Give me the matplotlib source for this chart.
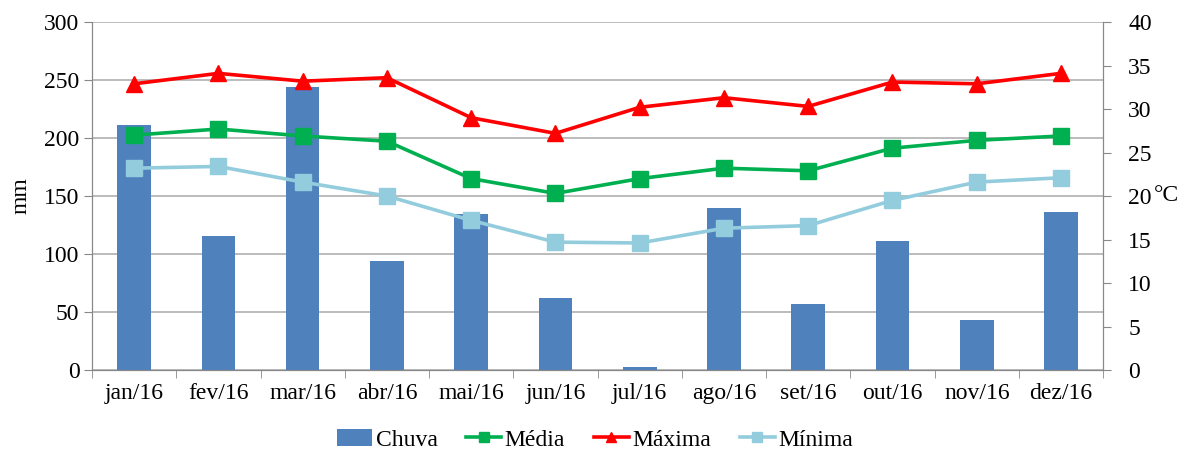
from matplotlib import pyplot as plt
import numpy as np

meses = ['jan/16', 'fev/16', 'mar/16', 'abr/16', 'mai/16', 'jun/16',
         'jul/16', 'ago/16', 'set/16', 'out/16', 'nov/16', 'dez/16']
chuva = [211, 115.5, 244, 94, 134.5, 62, 3, 139.5, 57, 111, 43, 136]  # mm
media = [27.0, 27.7, 26.9, 26.3, 22.0, 20.3, 22.0, 23.2, 22.9, 25.5, 26.4, 26.9]
maxima = [32.9, 34.1, 33.2, 33.6, 29.0, 27.2, 30.2, 31.3, 30.3, 33.1, 32.9, 34.1]
minima = [23.2, 23.4, 21.6, 20.0, 17.2, 14.7, 14.6, 16.3, 16.6, 19.5, 21.6, 22.1]

plt.rcParams['font.family'] = ['Liberation Serif', 'DejaVu Serif']
plt.rcParams['font.size'] = 17

fig = plt.figure(figsize=(11.9, 4.55), dpi=100)
ax = fig.add_axes([0.0773, 0.1868, 0.8497, 0.7648])
ax2 = ax.twinx()

x = np.arange(len(meses))
ax.bar(x, chuva, width=0.40, color='#4F81BD', label='Chuva', zorder=2)

ax2.plot(x, media, color='#00B050', lw=2.6, marker='s', ms=11, label='Média')
ax2.plot(x, maxima, color='#FF0000', lw=2.6, marker='^', ms=12, label='Máxima')
ax2.plot(x, minima, color='#93CDDD', lw=2.6, marker='s', ms=11, label='Mínima')

ax.set_xlim(-0.5, 11.5)
ax.set_ylim(0, 300)
ax2.set_ylim(0, 40)
ax.set_yticks(range(0, 301, 50))
ax2.set_yticks(range(0, 41, 5))
ax.set_xticks(x)
ax.set_xticklabels(meses)
ax.set_xticks(np.arange(-0.5, 12, 1), minor=True)
ax.tick_params(axis='x', which='major', length=0, pad=9)
ax.tick_params(axis='x', which='minor', length=6, color='#888888')
ax.tick_params(axis='y', length=6, color='#888888', pad=3)
ax2.tick_params(axis='y', length=6, color='#888888', pad=12)

ax.grid(axis='y', color='#B0B0B0', lw=1.2, zorder=0)
ax.set_axisbelow(True)
for a in (ax, ax2):
    for s in a.spines.values():
        s.set_color('#888888')
    a.spines['top'].set_visible(False)

# axis titles
fig.text(0.018, 0.57, 'mm', rotation=90, ha='center', va='center')
fig.text(0.970, 0.57, '°C', ha='left', va='center')

h1, l1 = ax.get_legend_handles_labels()
h2, l2 = ax2.get_legend_handles_labels()
fig.legend(h1 + h2, l1 + l2, loc='center', bbox_to_anchor=(0.5, 0.033),
           ncol=4, frameon=False, handlelength=1.5, handletextpad=0.15,
           columnspacing=1.2, borderaxespad=0, markerscale=0.65,
           prop={'family': 'Liberation Serif', 'size': 17})

fig.savefig('out.png', dpi=100)
